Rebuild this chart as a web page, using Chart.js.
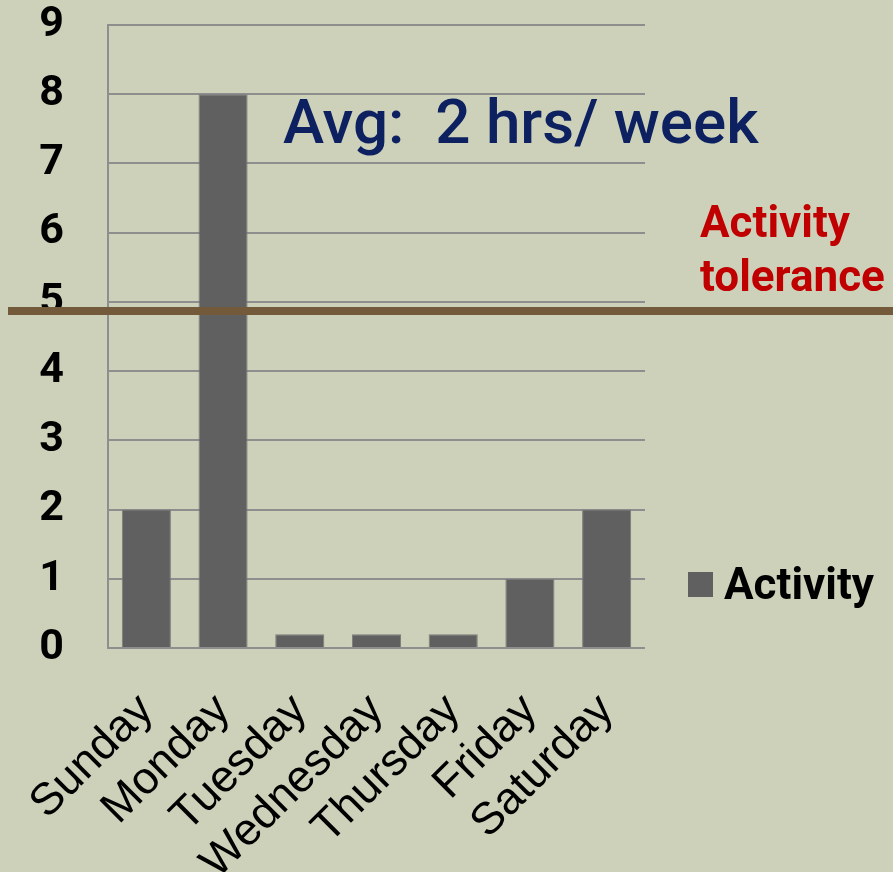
<!DOCTYPE html>
<html>
<head>
<meta charset="utf-8">
<script src="https://cdn.jsdelivr.net/npm/chart.js@4"></script>
<style>
  body { margin: 0; background: #cdd1b9; }
  #wrap { width: 893px; height: 872px; }
</style>
</head>
<body>
<div id="wrap"><canvas id="activity-chart" width="893" height="872"></canvas></div>
<script>
// Chart data
const days = ['Sunday', 'Monday', 'Tuesday', 'Wednesday', 'Thursday', 'Friday', 'Saturday'];
const activityHours = [2, 8, 0.2, 0.2, 0.2, 1, 2];
const yTicks = [0, 1, 2, 3, 4, 5, 6, 7, 8, 9];
const toleranceLevel = 4.87;
const seriesName = 'Activity';
const titleText = 'Avg:  2 hrs/ week';
const toleranceLabel = ['Activity', 'tolerance'];

const barColor = '#606060';
const gridColor = '#8e8e8e';

// Draws the tolerance line, title text and the legend
const overlayPlugin = {
    id: 'overlay',
    afterDraw(chart) {
        const ctx = chart.ctx;
        const y = chart.scales.y.getPixelForValue(toleranceLevel);
        ctx.save();

        // tolerance line across the whole picture
        ctx.strokeStyle = '#735a3b';
        ctx.lineWidth = 8;
        ctx.beginPath();
        ctx.moveTo(8, y);
        ctx.lineTo(chart.width, y);
        ctx.stroke();

        // average text
        ctx.fillStyle = '#0d2161';
        ctx.font = '500 62px Roboto';
        ctx.textBaseline = 'alphabetic';
        ctx.textAlign = 'left';
        ctx.fillText(titleText, 283, 143);

        // tolerance label
        ctx.fillStyle = '#c00000';
        ctx.font = 'bold 44px Roboto';
        ctx.fillText(toleranceLabel[0], 700, 237);
        ctx.fillText(toleranceLabel[1], 700, 291);

        // legend
        ctx.fillStyle = chart.data.datasets[0].backgroundColor;
        ctx.fillRect(688, 572, 25, 25);
        ctx.fillStyle = '#000000';
        ctx.fillText(chart.data.datasets[0].label, 724, 599);

        ctx.restore();
    }
};

new Chart(document.getElementById('activity-chart'), {
    type: 'bar',
    data: {
        labels: days,
        datasets: [{
            label: seriesName,
            data: activityHours,
            backgroundColor: barColor,
            borderColor: '#7c7c7c',
            borderWidth: 1,
            categoryPercentage: 1,
            barPercentage: 0.64
        }]
    },
    options: {
        responsive: false,
        animation: false,
        layout: {
            padding: { left: 0, right: 248, top: 25, bottom: 0 }
        },
        plugins: {
            legend: { display: false },
            tooltip: { enabled: false }
        },
        scales: {
            y: {
                min: 0,
                max: 9,
                afterBuildTicks: (scale) => {
                    scale.ticks = yTicks.map(v => ({ value: v }));
                },
                afterFit: (scale) => {
                    scale.width = 108;
                    scale.paddingTop = 0;
                    scale.paddingBottom = 0;
                },
                ticks: {
                    color: '#000000',
                    font: { family: 'Roboto', weight: 'bold', size: 43 },
                    padding: 44
                },
                grid: {
                    color: gridColor,
                    lineWidth: 2,
                    drawTicks: false
                },
                border: { color: gridColor, width: 2 }
            },
            x: {
                afterFit: (scale) => {
                    scale.height = 224;
                    scale.paddingLeft = 0;
                    scale.paddingRight = 0;
                },
                ticks: {
                    color: '#000000',
                    font: { family: 'Liberation Sans', size: 45 },
                    minRotation: 45,
                    maxRotation: 45,
                    autoSkip: false,
                    padding: 36
                },
                grid: { display: false, drawTicks: false },
                border: { display: false }
            }
        }
    },
    plugins: [overlayPlugin]
});
</script>
</body>
</html>
